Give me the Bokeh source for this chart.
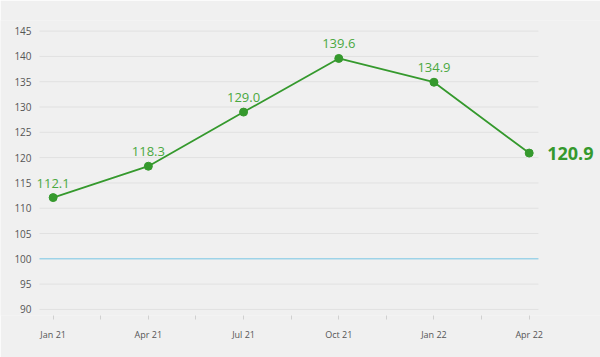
from bokeh.plotting import figure
from bokeh.models import ColumnDataSource, FixedTicker, Range1d, LabelSet
from bokeh.core.properties import value
from bokeh.embed import file_html
from bokeh.resources import INLINE

categories = ["Jan 21", "Apr 21", "Jul 21", "Oct 21", "Jan 22", "Apr 22"]
values = [112.1, 118.3, 129.0, 139.6, 134.9, 120.9]
y_ticks = [90, 95, 100, 105, 110, 115, 120, 125, 130, 135, 140, 145]
baseline = 100

xs = list(range(len(categories)))
labels = ["%.1f" % v for v in values]

GREEN = "#35992d"
LABEL_GREEN = "#4aa83f"
BG = "#f0f0f0"
FONT = "Open Sans"

# data-space extents: plot area spans GRID_START..GRID_END; canvas spans X_START..X_END
X_START, GRID_START, GRID_END, X_END = -0.553, -0.143, 5.097, 5.749

p = figure(width=600, height=357, output_backend="svg", toolbar_location=None,
           x_range=Range1d(X_START, X_END), y_range=Range1d(88.8, 147.1),
           min_border_left=0, min_border_right=0, min_border_top=20, min_border_bottom=42,
           background_fill_color=BG, border_fill_color=BG)
p.outline_line_color = None
p.xgrid.grid_line_color = None
p.ygrid.grid_line_color = None
p.yaxis.visible = False

p.xaxis.ticker = FixedTicker(ticks=xs, minor_ticks=[i + 0.5 for i in xs[:-1]])
p.xaxis.major_label_overrides = {i: c for i, c in zip(xs, categories)}
p.xaxis.axis_line_color = None
p.xaxis.major_tick_line_color = "#d0d0d0"
p.xaxis.minor_tick_line_color = "#d0d0d0"
p.xaxis.major_tick_in = 0
p.xaxis.major_tick_out = 4
p.xaxis.minor_tick_in = 0
p.xaxis.minor_tick_out = 4
p.xaxis.major_label_text_font = FONT
p.xaxis.major_label_text_font_size = "9px"
p.xaxis.major_label_text_color = "#555555"
p.xaxis.major_label_standoff = 8

# horizontal grid lines limited to the plotting area, with y tick labels at their left
n = len(y_ticks)
grid_src = ColumnDataSource(dict(x0=[GRID_START] * n, x1=[GRID_END] * n, y=y_ticks,
                                 label=[str(t) for t in y_ticks]))
p.segment("x0", "y", "x1", "y", source=grid_src, line_color="#e1e1e1", line_width=1)
p.text("x0", "y", text="label", source=grid_src, text_align="right", text_baseline="middle",
       x_offset=-8, text_font=value(FONT), text_font_size="10px", text_color="#555555")
p.segment(x0=[GRID_START], y0=[baseline], x1=[GRID_END], y1=[baseline],
          line_color="#7ccbea", line_width=1)

src = ColumnDataSource(dict(x=xs, y=values, label=labels))
p.line("x", "y", source=src, line_color=GREEN, line_width=1.8)
p.scatter("x", "y", source=src, size=8, fill_color=GREEN, line_color=GREEN)

small = ColumnDataSource(dict(x=xs[:-1], y=values[:-1], label=labels[:-1]))
p.add_layout(LabelSet(x="x", y="y", text="label", source=small, text_align="center",
                      text_baseline="alphabetic", y_offset=10, text_font=value(FONT),
                      text_font_size="13px", text_color=LABEL_GREEN))

last = ColumnDataSource(dict(x=xs[-1:], y=values[-1:], label=labels[-1:]))
p.add_layout(LabelSet(x="x", y="y", text="label", source=last, text_align="left",
                      text_baseline="middle", x_offset=18, text_font=value(FONT),
                      text_font_size="18px", text_font_style="bold", text_color=GREEN))

open("out.html", "w").write(file_html(p, INLINE))
